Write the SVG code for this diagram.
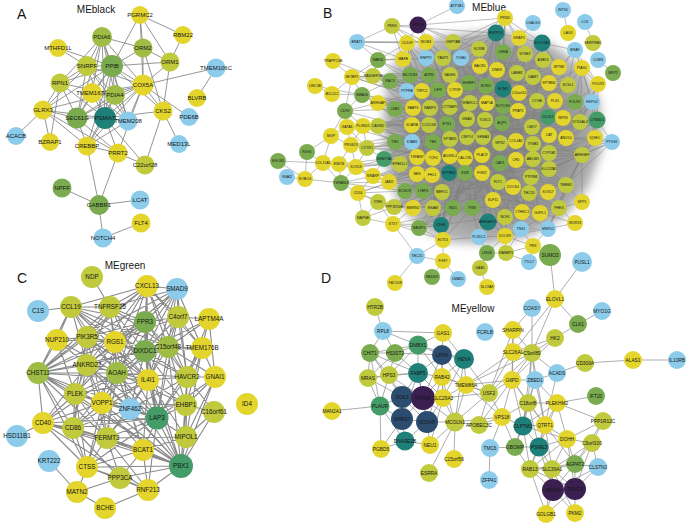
<svg xmlns="http://www.w3.org/2000/svg" width="689" height="523" viewBox="0 0 689 523">
<style>
.e{fill:none;stroke:#8a8a8a;stroke-linecap:round}
.ea{stroke-width:0.9}.eb{stroke-width:0.5;stroke:#7e7e7e}.ec{stroke-width:1.1}.ed{stroke-width:0.7}
text{font-family:"Liberation Sans",Arial,sans-serif;text-anchor:middle;fill:#151515}
.h{font-size:14px;text-anchor:start}.m{font-size:10px}
.fa{font-size:6px}.fb{font-size:3.5px}.fc{font-size:6.3px}.fd{font-size:4.8px}
.y{fill:#e3d52c}.yg{fill:#c0ca3c}.lg{fill:#9fbd45}.g{fill:#7aac4f}.tg{fill:#449c68}.t{fill:#1f8079}.n{fill:#2d4d70}.p{fill:#3b1f50}.b{fill:#8ccbea}
</style>
<defs>
<radialGradient id="meshfill" cx="0.5" cy="0.5" r="0.55">
<stop offset="0" stop-color="#8a8a8a"/>
<stop offset="0.65" stop-color="#959595"/>
<stop offset="1" stop-color="#c0c0c0"/>
</radialGradient>
<filter id="soft" x="-10%" y="-10%" width="120%" height="120%"><feGaussianBlur stdDeviation="5"/></filter>
</defs>
<rect width="689" height="523" fill="#ffffff"/>
<g id="titles">
<text class="h" x="17" y="19">A</text><text class="m" x="96" y="13">MEblack</text>
<text class="h" x="323" y="18">B</text><text class="m" x="489" y="11">MEblue</text>
<text class="h" x="17" y="283">C</text><text class="m" x="125" y="269">MEgreen</text>
<text class="h" x="321" y="283">D</text><text class="m" x="473" y="312">MEyellow</text>
</g>
<g id="connectors">
<path id="edges-a" class="e ea" d="M140 15L183 35M140 15L170 62M140 15L143 48M140 15L112 66M140 15L143 85M183 35L170 62M143 48L112 66M143 48L170 62M143 48L143 85M143 48L163 111M143 48L102 37M170 62L143 85M170 62L112 66M170 62L163 111M216 68L143 85M216 68L197 98M102 37L112 66M102 37L87 66M102 37L115 95M102 37L77 118M102 37L92 93M102 37L105 118M102 37L143 85M102 37L128 121M102 37L60 83M58 48L112 66M58 48L87 66M87 66L112 66M87 66L60 83M87 66L43 110M87 66L115 95M87 66L77 118M87 66L105 118M87 66L128 121M87 66L143 85M112 66L143 85M112 66L115 95M112 66L77 118M112 66L105 118M112 66L60 83M112 66L92 93M112 66L128 121M112 66L87 146M112 66L43 110M112 66L163 111M60 83L43 110M60 83L77 118M60 83L115 95M60 83L50 142M60 83L105 118M143 85L115 95M143 85L105 118M143 85L77 118M143 85L163 111M143 85L128 121M143 85L92 93M143 85L118 153M143 85L87 146M143 85L189 117M143 85L43 110M92 93L105 118M92 93L77 118M92 93L115 95M92 93L128 121M115 95L105 118M115 95L77 118M115 95L128 121M115 95L87 146M43 110L16 136M43 110L77 118M43 110L105 118M43 110L50 142M43 110L118 153M43 110L87 146M163 111L179 144M163 111L105 118M163 111L145 165M77 118L105 118M77 118L87 146M77 118L118 153M105 118L128 121M105 118L87 146M105 118L118 153M105 118L145 165M128 121L87 146M87 146L118 153M87 146L99 205M118 153L99 205M118 153L145 165M62 188L99 205M140 200L99 205M99 205L103 238M103 238L141 223"/>
<polygon id="mesh-b" points="398,52 440,36 500,30 545,40 580,64 600,100 602,150 588,188 563,218 530,236 490,244 452,243 422,230 398,204 386,165 383,120 386,82" fill="url(#meshfill)" filter="url(#soft)"/>
<path id="edges-b" class="e eb" d="M373 76L543 60M373 76L568 85M373 76L555 101M373 76L548 117M373 76L566 138M373 76L582 155M373 76L549 169M390 81L559 67M390 81L549 83M390 81L537 101M390 81L575 102M390 81L580 122M390 81L549 153M390 81L566 185M378 103L543 60M378 103L568 85M378 103L555 101M378 103L548 117M378 103L549 135M378 103L582 155M378 103L559 208M395 109L559 67M395 109L549 83M395 109L575 102M395 109L580 122M395 109L566 138M395 109L549 169M395 109L566 185M378 126L543 60M378 126L549 83M378 126L537 101M378 126L548 117M378 126L549 135M378 126L549 153M378 126L559 208M395 142L559 67M395 142L568 85M395 142L555 101M395 142L580 122M395 142L566 138M395 142L582 155M395 142L566 185M384 159L543 60M384 159L549 83M384 159L575 102M384 159L548 117M384 159L549 153M384 159L549 169M384 159L559 208M400 164L559 67M400 164L568 85M400 164L537 101M400 164L580 122M400 164L549 135M400 164L582 155M400 164L566 185M389 182L543 60M389 182L549 83M389 182L555 101M389 182L548 117M389 182L566 138M389 182L549 169M389 182L559 208M405 191L559 67M405 191L568 85M405 191L575 102M405 191L580 122M405 191L549 153M405 191L582 155M405 191L566 185M394 207L543 60M394 207L537 101M394 207L548 117M394 207L549 135M394 207L566 138M394 207L549 169M394 207L559 208M413 208L559 67M413 208L549 83M413 208L555 101M413 208L580 122M413 208L549 153M413 208L566 185M419 228L568 85M419 228L575 102M419 228L548 117M419 228L566 138M419 228L582 155M419 228L559 208M407 43L433 208M407 43L472 208M407 43L522 212M407 43L488 222M407 43L521 229M407 43L443 240M426 42L453 208M426 42L441 225M426 42L493 200M426 42L540 213M426 42L505 217M426 42L505 236M453 42L433 208M453 42L472 208M453 42L522 212M453 42L488 222M453 42L521 229M453 42L443 240M403 59L453 208M403 59L441 225M403 59L493 200M403 59L505 217M403 59L540 213M443 58L433 208M443 58L472 208M443 58L522 212M443 58L488 222M443 58L505 236M496 33L433 208M496 33L453 208M496 33L441 225M496 33L493 200M496 33L540 213M496 33L521 229M519 38L453 208M519 38L472 208M519 38L488 222M519 38L505 236M519 38L443 240M479 49L433 208M479 49L441 225M479 49L522 212M479 49L505 217M479 49L521 229M503 52L453 208M503 52L472 208M503 52L493 200M503 52L540 213M503 52L443 240M525 54L433 208M525 54L441 225M525 54L488 222M525 54L505 236M542 43L453 208M542 43L472 208M542 43L522 212M542 43L521 229M505 18L433 208M505 18L493 200M505 18L505 217M505 18L441 225M373 76L522 212M390 81L540 213M378 103L505 236M395 109L521 229M378 126L540 213M407 43L566 185M426 42L582 155M453 42L559 208M403 59L549 169M443 58L566 138M542 43L394 207M525 54L384 159M519 38L419 228M503 52L405 191M496 33L389 182M568 85L413 208M580 122L433 208M357 42L392 26M357 42L407 43M357 42L426 42M357 42L453 42M357 42L403 59M357 42L378 60M392 26L418 25M392 26L407 43M392 26L426 42M392 26L403 59M392 26L443 58M392 26L496 33M418 25L457 6M418 25L407 43M418 25L426 42M418 25L453 42M418 25L443 58M418 25L479 49M418 25L505 18M378 60L352 77M378 60L403 59M378 60L443 58M378 60L450 107M378 60L373 76M378 60L410 75M378 60L407 43M333 61L352 77M333 61L373 76M352 77L373 76M352 77L362 95M352 77L345 111M352 77L332 94M352 77L410 75M352 77L450 107M352 77L485 120M352 77L390 81M315 86L332 94M315 86L362 95M332 94L362 95M362 95L390 81M362 95L395 109M362 95L450 107M362 95L485 120M362 95L345 111M362 95L378 103M362 95L430 140M345 111L347 127M345 111L363 126M345 111L378 103M345 111L395 109M345 111L450 139M345 111L331 136M347 127L363 126M347 127L331 136M347 127L351 145M347 127L367 148M347 127L412 125M347 127L485 120M347 127L465 158M363 126L378 126M363 126L351 145M363 126L367 148M363 126L395 142M363 126L450 139M363 126L503 106M363 126L500 163M331 136L351 145M331 136L307 152M331 136L323 163M351 145L367 148M351 145L339 164M351 145L356 167M351 145L395 142M351 145L465 158M351 145L485 120M367 148L384 159M367 148L356 167M367 148L395 142M367 148L450 139M367 148L500 163M367 148L532 127M307 152L323 163M307 152L305 179M278 161L323 163M278 161L305 179M323 163L339 164M323 163L305 179M323 163L341 183M323 163L356 167M339 164L356 167M339 164L341 183M339 164L384 159M339 164L373 176M339 164L400 164M356 167L373 176M356 167L341 183M356 167L384 159M356 167L389 182M356 167L465 158M356 167L433 158M287 177L305 179M305 179L341 183M341 183L373 176M341 183L358 193M341 183L389 182M341 183L405 191M373 176L389 182M373 176L358 193M373 176L384 159M373 176L417 174M373 176L465 158M373 176L500 163M373 176L433 158M358 193L378 202M358 193L389 182M358 193L394 207M358 193L405 191M358 193L363 218M358 193L417 174M378 202L394 207M378 202L363 218M378 202L393 224M378 202L413 208M378 202L433 208M363 218L393 224M363 218L394 207M393 224L419 228M393 224L443 240M393 224L417 256M393 224L413 208M393 224L441 225M393 224L472 208M419 228L441 225M419 228L443 240M419 228L433 208M419 228L453 208M443 240L417 256M443 240L443 261M443 240L441 225M443 240L472 208M443 240L479 237M417 256L443 261M395 283L417 256M432 277L443 261M458 279L443 261M487 287L480 268M480 268L487 253M505 18L496 33M505 18L519 38M505 18L479 49M505 18L503 52M505 18L525 54M505 18L480 66M505 18L453 42M505 18L542 43M505 18L443 58M533 23L519 38M563 10L568 33M585 22L593 43M496 33L479 49M496 33L503 52M496 33L519 38M496 33L480 66M496 33L453 42M496 33L450 75M496 33L443 58M542 43L575 50M542 43L559 67M542 43L525 54M542 43L543 60M542 43L519 38M542 43L568 85M575 50L582 68M575 50L559 67M575 50L568 85M575 50L598 84M575 50L549 83M575 50L592 102M582 68L598 84M582 68L568 85M582 68L575 102M582 68L592 102M582 68L549 83M582 68L580 122M598 60L613 73M598 84L592 102M598 84L575 102M598 84L580 122M598 84L597 120M598 84L566 138M592 102L597 120M592 102L575 102M592 102L580 122M592 102L549 135M592 102L566 138M592 102L595 138M592 102L549 153M597 120L595 138M597 120L580 122M597 120L566 138M597 120L582 155M597 120L612 142M597 120L549 153M595 138L612 142M595 138L582 155M595 138L566 138M595 138L549 153M595 138L566 185M612 142L582 155M612 142L549 153M612 142L549 169M612 142L566 185M612 142L566 138M582 155L566 185M582 155L549 169M582 155L582 202M582 155L559 208M582 155L548 229M566 185L582 202M566 185L559 208M566 185L548 229M566 185L549 169M582 202L559 208M559 208L575 223M559 208L548 229M559 208L540 213M559 208L521 229M575 223L548 229M575 223L540 213M548 229L521 229M548 229L533 246M548 229L540 213M548 229L505 236M548 229L522 212M521 229L505 236M521 229L533 246M521 229L505 217M521 229L506 253M533 246L505 236M533 246L506 253M533 246L529 262M505 236L488 222M505 236L479 237M505 236L506 253M505 236L487 253M506 253L487 253M506 253L529 262M479 237L487 253M479 237L488 222M479 237L472 208M487 253L480 268"/>
<path id="edges-c" class="e ec" d="M92 277L110 307M38 311L71 307M71 307L147 286M71 307L110 307M71 307L87 337M71 307L57 340M71 307L115 342M71 307L145 322M71 307L145 351M71 307L87 365M71 307L38 373M71 307L117 373M71 307L168 347M71 307L148 380M110 307L147 286M110 307L145 322M110 307L115 342M110 307L87 337M110 307L145 351M110 307L117 373M110 307L87 365M110 307L168 347M110 307L177 289M110 307L38 373M110 307L148 380M110 307L75 394M147 286L177 289M147 286L145 322M147 286L178 317M147 286L145 351M147 286L115 342M147 286L87 337M147 286L168 347M147 286L117 373M147 286L187 377M147 286L148 380M147 286L87 365M147 286L38 373M147 286L202 348M177 289L178 317M177 289L145 322M177 289L168 347M177 289L145 351M177 289L187 377M177 289L148 380M177 289L117 373M177 289L115 342M177 289L157 418M177 289L202 348M177 289L87 337M178 317L209 319M178 317L168 347M178 317L202 348M178 317L145 351M178 317L145 322M178 317L187 377M178 317L115 342M178 317L157 418M178 317L148 380M209 319L202 348M209 319L215 377M209 319L168 347M209 319L187 377M209 319L145 351M145 322L115 342M145 322L145 351M145 322L168 347M145 322L117 373M145 322L148 380M145 322L87 337M145 322L87 365M145 322L187 377M145 322L157 418M145 322L38 373M145 322L102 403M145 322L75 394M57 340L87 337M57 340L87 365M57 340L38 373M57 340L117 373M57 340L115 342M57 340L75 394M87 337L115 342M87 337L87 365M87 337L117 373M87 337L145 351M87 337L38 373M87 337L148 380M87 337L75 394M87 337L102 403M87 337L73 428M87 337L157 418M115 342L145 351M115 342L117 373M115 342L87 365M115 342L148 380M115 342L168 347M115 342L38 373M115 342L187 377M115 342L157 418M115 342L102 403M115 342L130 409M115 342L75 394M115 342L107 438M145 351L168 347M145 351L117 373M145 351L148 380M145 351L187 377M145 351L157 418M145 351L87 365M145 351L38 373M145 351L102 403M145 351L130 409M145 351L181 466M145 351L186 405M145 351L202 348M168 347L202 348M168 347L187 377M168 347L148 380M168 347L117 373M168 347L157 418M168 347L186 405M168 347L181 466M168 347L215 377M168 347L130 409M202 348L187 377M202 348L215 377M202 348L157 418M202 348L186 405M202 348L186 437M87 365L38 373M87 365L117 373M87 365L148 380M87 365L75 394M87 365L102 403M87 365L73 428M87 365L107 438M87 365L157 418M87 365L181 466M87 365L43 423M87 365L130 409M38 373L117 373M38 373L75 394M38 373L43 423M38 373L73 428M38 373L102 403M38 373L148 380M38 373L107 438M38 373L157 418M38 373L181 466M38 373L87 467M117 373L148 380M117 373L187 377M117 373L157 418M117 373L75 394M117 373L102 403M117 373L130 409M117 373L107 438M117 373L73 428M117 373L181 466M117 373L143 450M117 373L186 405M117 373L43 423M117 373L87 467M148 380L187 377M148 380L157 418M148 380L102 403M148 380L130 409M148 380L186 405M148 380L181 466M148 380L186 437M148 380L107 438M148 380L143 450M148 380L73 428M148 380L75 394M187 377L215 377M187 377L157 418M187 377L186 405M187 377L181 466M187 377L186 437M187 377L130 409M187 377L214 412M215 377L186 405M215 377L186 437M215 377L181 466M215 377L157 418M75 394L102 403M75 394L43 423M75 394L73 428M75 394L107 438M75 394L157 418M75 394L181 466M75 394L130 409M75 394L87 467M102 403L130 409M102 403L157 418M102 403L43 423M102 403L73 428M102 403L107 438M102 403L143 450M102 403L181 466M102 403L87 467M102 403L186 405M130 409L157 418M130 409L107 438M130 409L143 450M130 409L181 466M130 409L186 405M130 409L73 428M157 418L186 405M157 418L186 437M157 418L181 466M157 418L143 450M157 418L107 438M157 418L73 428M157 418L43 423M157 418L87 467M157 418L148 490M186 405L214 412M186 405L186 437M186 405L181 466M214 412L181 466M214 412L186 437M186 437L181 466M186 437L143 450M186 437L107 438M43 423L17 436M43 423L73 428M43 423L107 438M43 423L87 467M43 423L143 450M43 423L181 466M43 423L148 490M73 428L107 438M73 428L87 467M73 428L143 450M73 428L181 466M73 428L120 478M107 438L143 450M107 438L87 467M107 438L181 466M107 438L120 478M107 438L148 490M143 450L181 466M143 450L87 467M143 450L148 490M143 450L120 478M87 467L181 466M87 467L120 478M87 467L148 490M87 467L77 492M181 466L120 478M181 466L148 490M120 478L77 492M120 478L148 490M77 492L49 461M77 492L105 508M105 508L148 490"/>
<path id="edges-d" class="e ed" d="M375 307L383 331M383 331L443 333M383 331L370 353M383 331L395 353M383 331L418 345M443 333L442 355M443 333L418 345M443 333L464 359M513 330L513 352M513 330L512 380M513 330L532 353M513 330L489 393M555 299L550 255M555 299L582 262M555 299L578 324M555 299L532 353M555 299L513 352M532 308L532 353M532 308L513 330M602 311L578 324M578 324L555 338M555 338L532 353M555 338L512 380M555 338L513 352M532 353L513 352M532 353L512 380M532 353L535 380M532 353L528 403M532 353L557 373M532 353L489 393M532 353L466 385M532 353L523 426M532 353L545 425M585 363L557 373M585 363L633 360M633 360L677 360M557 373L535 380M557 373L545 425M535 380L512 380M535 380L528 403M535 380L557 403M535 380L545 425M535 380L523 426M512 380L489 393M512 380L513 352M512 380L528 403M512 380L523 426M512 380L545 425M512 380L466 385M512 380L502 417M512 380L479 425M513 352L489 393M513 352L466 385M596 396L557 403M557 403L528 403M557 403L603 421M557 403L545 425M557 403L567 439M557 403L523 426M557 403L539 447M603 421L567 439M603 421L592 443M603 421L575 464M528 403L523 426M528 403L545 425M528 403L502 417M528 403L539 447M528 403L515 447M523 426L545 425M523 426L539 447M523 426L515 447M523 426L530 469M523 426L502 417M523 426L567 439M545 425L567 439M545 425L539 447M545 425L530 469M545 425L552 469M545 425L575 464M567 439L592 443M567 439L575 464M567 439L539 447M567 439L552 469M567 439L530 469M567 439L575 489M592 443L575 464M592 443L598 467M592 443L552 469M592 443L575 489M575 464L598 467M575 464L552 469M575 464L575 489M575 464L553 490M575 464L530 469M598 467L575 489M598 467L553 490M539 447L515 447M539 447L530 469M539 447L552 469M539 447L553 490M515 447L530 469M515 447L502 417M515 447L490 448M530 469L552 469M530 469L553 490M530 469L575 489M530 469L546 514M552 469L553 490M552 469L575 489M552 469L546 514M552 469L575 513M553 490L575 489M553 490L546 514M553 490L575 513M575 489L575 513M575 489L546 514M502 417L479 425M502 417L455 422M502 417L489 393M502 417L490 448M502 417L466 385M489 393L466 385M489 393L455 422M489 393L479 425M489 393L442 377M489 393L464 359M489 393L443 398M370 353L395 353M370 353L368 378M370 353L389 375M370 353L418 373M370 353L402 397M370 353L380 406M370 353L418 345M395 353L418 345M395 353L389 375M395 353L418 373M395 353L368 378M395 353L442 355M418 345L442 355M418 345L418 373M418 345L464 359M418 345L442 377M418 345L389 375M442 355L464 359M442 355L418 373M442 355L442 377M442 355L466 385M442 355L423 398M442 355L443 398M464 359L442 377M464 359L466 385M464 359L443 398M464 359L455 422M368 378L389 375M368 378L380 406M368 378L418 373M368 378L402 397M389 375L418 373M389 375L402 397M389 375L423 398M389 375L380 406M418 373L442 377M418 373L402 397M418 373L423 398M418 373L443 398M418 373L427 422M418 373L402 419M442 377L466 385M442 377L443 398M442 377L423 398M442 377L427 422M442 377L455 422M466 385L443 398M466 385L455 422M402 397L423 398M402 397L402 419M402 397L427 422M402 397L380 406M423 398L443 398M423 398L427 422M423 398L402 419M423 398L455 422M443 398L455 422M443 398L427 422M443 398L430 445M380 406L332 411M380 406L402 419M380 406L405 441M380 406L381 449M402 419L427 422M402 419L405 441M402 419L381 449M427 422L455 422M427 422L430 445M427 422L405 441M455 422L479 425M455 422L430 445M455 422L454 459M455 422L429 473M405 441L381 449M405 441L430 445M490 448L489 480"/>
</g>
<g id="nodes-a" class="fa">
<g id="a-pgrmc2"><circle class="y" cx="140" cy="15" r="9"/><text x="140" y="17">PGRMC2</text></g>
<g id="a-rbm22"><circle class="y" cx="183" cy="35" r="9"/><text x="183" y="37">RBM22</text></g>
<g id="a-pdia6"><circle class="lg" cx="102" cy="37" r="10"/><text x="102" y="39">PDIA6</text></g>
<g id="a-orm2"><circle class="lg" cx="143" cy="48" r="9.5"/><text x="143" y="50">ORM2</text></g>
<g id="a-mthfd1l"><circle class="y" cx="58" cy="48" r="9"/><text x="58" y="50">MTHFD1L</text></g>
<g id="a-orm1"><circle class="yg" cx="170" cy="62" r="9.5"/><text x="170" y="64">ORM1</text></g>
<g id="a-snrpf"><circle class="yg" cx="87" cy="66" r="10"/><text x="87" y="68">SNRPF</text></g>
<g id="a-ppib"><circle class="g" cx="112" cy="66" r="11"/><text x="112" y="68">PPIB</text></g>
<g id="a-tmem106c"><circle class="b" cx="216" cy="68" r="9.5"/><text x="216" y="70">TMEM106C</text></g>
<g id="a-rpn1"><circle class="yg" cx="60" cy="83" r="9.5"/><text x="60" y="85">RPN1</text></g>
<g id="a-cox5a"><circle class="y" cx="143" cy="85" r="10.5"/><text x="143" y="87">COX5A</text></g>
<g id="a-tmem167a"><circle class="y" cx="92" cy="93" r="10"/><text x="92" y="95">TMEM167A</text></g>
<g id="a-pdia4"><circle class="lg" cx="115" cy="95" r="10"/><text x="115" y="97">PDIA4</text></g>
<g id="a-blvrb"><circle class="y" cx="197" cy="98" r="9"/><text x="197" y="100">BLVRB</text></g>
<g id="a-glrx3"><circle class="y" cx="43" cy="110" r="9.5"/><text x="43" y="112">GLRX3</text></g>
<g id="a-cks2"><circle class="y" cx="163" cy="111" r="9.5"/><text x="163" y="113">CKS2</text></g>
<g id="a-pde6b"><circle class="b" cx="189" cy="117" r="9"/><text x="189" y="119">PDE6B</text></g>
<g id="a-sec61g"><circle class="g" cx="77" cy="118" r="10.5"/><text x="77" y="120">SEC61G</text></g>
<g id="a-psma7"><circle class="t" cx="105" cy="118" r="11"/><text x="105" y="120">PSMA7</text></g>
<g id="a-tmem208"><circle class="b" cx="128" cy="121" r="9.5"/><text x="128" y="123">TMEM208</text></g>
<g id="a-acacb"><circle class="b" cx="16" cy="136" r="9"/><text x="16" y="138">ACACB</text></g>
<g id="a-bzrap1"><circle class="y" cx="50" cy="142" r="9"/><text x="50" y="144">BZRAP1</text></g>
<g id="a-crebbp"><circle class="y" cx="87" cy="146" r="9.5"/><text x="87" y="148">CREBBP</text></g>
<g id="a-med13l"><circle class="b" cx="179" cy="144" r="9"/><text x="179" y="146">MED13L</text></g>
<g id="a-prrt2"><circle class="y" cx="118" cy="153" r="9.5"/><text x="118" y="155">PRRT2</text></g>
<g id="a-c22orf28"><circle class="yg" cx="145" cy="165" r="9.5"/><text x="145" y="167">C22orf28</text></g>
<g id="a-npff"><circle class="g" cx="62" cy="188" r="9.5"/><text x="62" y="190">NPFF</text></g>
<g id="a-gabbr1"><circle class="g" cx="99" cy="205" r="10"/><text x="99" y="207">GABBR1</text></g>
<g id="a-lcat"><circle class="b" cx="140" cy="200" r="9.5"/><text x="140" y="202">LCAT</text></g>
<g id="a-flt4"><circle class="y" cx="141" cy="223" r="9.5"/><text x="141" y="225">FLT4</text></g>
<g id="a-notch4"><circle class="b" cx="103" cy="238" r="9.5"/><text x="103" y="240">NOTCH4</text></g>
</g>
<g id="nodes-b" class="fb">
<g id="b01"><circle class="b" cx="457" cy="6" r="8"/><text x="457" y="7.2">ATP1B1</text></g>
<g id="b02"><circle class="yg" cx="392" cy="26" r="8"/><text x="392" y="27.2">PKN3</text></g>
<g id="b03"><circle class="p" cx="418" cy="25" r="8.5"/><text x="418" y="26.2">PTK2B</text></g>
<g id="b04"><circle class="b" cx="357" cy="42" r="8"/><text x="357" y="43.2">BRAT1</text></g>
<g id="b05"><circle class="y" cx="407" cy="43" r="8"/><text x="407" y="44.2">CD109</text></g>
<g id="b06"><circle class="y" cx="426" cy="42" r="8"/><text x="426" y="43.2">MCM4</text></g>
<g id="b07"><circle class="yg" cx="453" cy="42" r="8"/><text x="453" y="43.2">GNPTAB</text></g>
<g id="b08"><circle class="y" cx="333" cy="61" r="8"/><text x="333" y="62.2">TRAPPC6B</text></g>
<g id="b09"><circle class="g" cx="378" cy="60" r="8"/><text x="378" y="61.2">RAB31</text></g>
<g id="b10"><circle class="y" cx="403" cy="59" r="8"/><text x="403" y="60.2">MAFB</text></g>
<g id="b11"><circle class="b" cx="426" cy="58" r="8"/><text x="426" y="59.2">ENPP2</text></g>
<g id="b12"><circle class="yg" cx="443" cy="58" r="8"/><text x="443" y="59.2">TASP1</text></g>
<g id="b13"><circle class="b" cx="461" cy="58" r="8"/><text x="461" y="59.2">ITGB4</text></g>
<g id="b14"><circle class="y" cx="352" cy="77" r="8"/><text x="352" y="78.2">SETBP1</text></g>
<g id="b15"><circle class="yg" cx="373" cy="76" r="8"/><text x="373" y="77.2">RASGEF1B</text></g>
<g id="b16"><circle class="g" cx="410" cy="75" r="8"/><text x="410" y="76.2">MCOLN3</text></g>
<g id="b17"><circle class="g" cx="429" cy="75" r="8"/><text x="429" y="76.2">ATRN</text></g>
<g id="b18"><circle class="yg" cx="450" cy="75" r="8"/><text x="450" y="76.2">SASH1</text></g>
<g id="b19"><circle class="y" cx="315" cy="86" r="8"/><text x="315" y="87.2">UNC5B</text></g>
<g id="b20"><circle class="y" cx="332" cy="94" r="8"/><text x="332" y="95.2">BCL2L2</text></g>
<g id="b21"><circle class="g" cx="362" cy="95" r="8"/><text x="362" y="96.2">SMAD6</text></g>
<g id="b22"><circle class="g" cx="390" cy="81" r="8"/><text x="390" y="82.2">RAC3</text></g>
<g id="b23"><circle class="b" cx="407" cy="91" r="8"/><text x="407" y="92.2">PTPRB</text></g>
<g id="b24"><circle class="y" cx="422" cy="91" r="8"/><text x="422" y="92.2">TRPC1</text></g>
<g id="b25"><circle class="g" cx="438" cy="90" r="8"/><text x="438" y="91.2">LIFR</text></g>
<g id="b26"><circle class="y" cx="455" cy="90" r="8"/><text x="455" y="91.2">CYP4F</text></g>
<g id="b27"><circle class="y" cx="378" cy="103" r="8"/><text x="378" y="104.2">ARHGAP</text></g>
<g id="b28"><circle class="g" cx="345" cy="111" r="8"/><text x="345" y="112.2">CD93</text></g>
<g id="b29"><circle class="g" cx="395" cy="109" r="8"/><text x="395" y="110.2">LDB2</text></g>
<g id="b30"><circle class="y" cx="413" cy="108" r="8"/><text x="413" y="109.2">FABP4</text></g>
<g id="b31"><circle class="yg" cx="430" cy="108" r="8"/><text x="430" y="109.2">RAMP3</text></g>
<g id="b32"><circle class="yg" cx="450" cy="107" r="8"/><text x="450" y="108.2">CTTNBP2</text></g>
<g id="b33"><circle class="y" cx="347" cy="127" r="8"/><text x="347" y="128.2">GATA6</text></g>
<g id="b34"><circle class="y" cx="363" cy="126" r="8"/><text x="363" y="127.2">PLXND1</text></g>
<g id="b35"><circle class="yg" cx="378" cy="126" r="8"/><text x="378" y="127.2">CAVIN2</text></g>
<g id="b36"><circle class="y" cx="412" cy="125" r="8"/><text x="412" y="126.2">SCARB</text></g>
<g id="b37"><circle class="yg" cx="429" cy="125" r="8"/><text x="429" y="126.2">CCDC68</text></g>
<g id="b38"><circle class="g" cx="447" cy="124" r="8"/><text x="447" y="125.2">ETS1</text></g>
<g id="b39"><circle class="y" cx="331" cy="136" r="8"/><text x="331" y="137.2">MGP</text></g>
<g id="b40"><circle class="y" cx="351" cy="145" r="8"/><text x="351" y="146.2">PRSS23</text></g>
<g id="b41"><circle class="yg" cx="367" cy="148" r="8"/><text x="367" y="149.2">CYYR1</text></g>
<g id="b42"><circle class="g" cx="395" cy="142" r="8"/><text x="395" y="143.2">TIE1</text></g>
<g id="b43"><circle class="b" cx="412" cy="142" r="8"/><text x="412" y="143.2">STAB1</text></g>
<g id="b44"><circle class="g" cx="433" cy="142" r="8"/><text x="433" y="143.2">TEK</text></g>
<g id="b45"><circle class="yg" cx="450" cy="139" r="8"/><text x="450" y="140.2">SPTAN1</text></g>
<g id="b46"><circle class="g" cx="307" cy="152" r="8"/><text x="307" y="153.2">RGS5</text></g>
<g id="b47"><circle class="g" cx="278" cy="161" r="8"/><text x="278" y="162.2">EGLN3</text></g>
<g id="b48"><circle class="y" cx="323" cy="163" r="8"/><text x="323" y="164.2">COL15A1</text></g>
<g id="b49"><circle class="y" cx="339" cy="164" r="8"/><text x="339" y="165.2">EMCN</text></g>
<g id="b50"><circle class="y" cx="356" cy="167" r="8"/><text x="356" y="168.2">SOX18</text></g>
<g id="b51"><circle class="tg" cx="384" cy="159" r="8"/><text x="384" y="160.2">DNMT3A</text></g>
<g id="b52"><circle class="yg" cx="400" cy="164" r="8"/><text x="400" y="165.2">EPB41L2</text></g>
<g id="b53"><circle class="y" cx="417" cy="157" r="8"/><text x="417" y="158.2">TSPAN7</text></g>
<g id="b54"><circle class="y" cx="433" cy="158" r="8"/><text x="433" y="159.2">TCF4</text></g>
<g id="b55"><circle class="y" cx="450" cy="156" r="8"/><text x="450" y="157.2">ADGRL4</text></g>
<g id="b56"><circle class="b" cx="287" cy="177" r="8"/><text x="287" y="178.2">SNAI2</text></g>
<g id="b57"><circle class="y" cx="305" cy="179" r="8"/><text x="305" y="180.2">ROBO4</text></g>
<g id="b58"><circle class="g" cx="341" cy="183" r="8"/><text x="341" y="184.2">TSPAN18</text></g>
<g id="b59"><circle class="y" cx="373" cy="176" r="8"/><text x="373" y="177.2">NRARP</text></g>
<g id="b60"><circle class="y" cx="417" cy="174" r="8"/><text x="417" y="175.2">NES</text></g>
<g id="b61"><circle class="y" cx="432" cy="175" r="8"/><text x="432" y="176.2">FHL1</text></g>
<g id="b62"><circle class="t" cx="449" cy="173" r="8"/><text x="449" y="174.2">SPTBN1</text></g>
<g id="b63"><circle class="y" cx="389" cy="182" r="8"/><text x="389" y="183.2">JAM2</text></g>
<g id="b64"><circle class="y" cx="358" cy="193" r="8"/><text x="358" y="194.2">CD34</text></g>
<g id="b65"><circle class="g" cx="405" cy="191" r="8"/><text x="405" y="192.2">ECSCR</text></g>
<g id="b66"><circle class="g" cx="423" cy="191" r="8"/><text x="423" y="192.2">LTBP4</text></g>
<g id="b67"><circle class="yg" cx="442" cy="192" r="8"/><text x="442" y="193.2">MEF2C</text></g>
<g id="b68"><circle class="yg" cx="378" cy="202" r="8"/><text x="378" y="203.2">ITIH5</text></g>
<g id="b69"><circle class="yg" cx="394" cy="207" r="8"/><text x="394" y="208.2">PPP1R16B</text></g>
<g id="b70"><circle class="y" cx="413" cy="208" r="8"/><text x="413" y="209.2">MMRN2</text></g>
<g id="b71"><circle class="yg" cx="433" cy="208" r="8"/><text x="433" y="209.2">ESAM</text></g>
<g id="b72"><circle class="g" cx="453" cy="208" r="8"/><text x="453" y="209.2">NID1</text></g>
<g id="b73"><circle class="yg" cx="363" cy="218" r="8"/><text x="363" y="219.2">NAPSB</text></g>
<g id="b74"><circle class="y" cx="393" cy="224" r="8"/><text x="393" y="225.2">STX7</text></g>
<g id="b75"><circle class="g" cx="419" cy="228" r="8"/><text x="419" y="229.2">RASIP1</text></g>
<g id="b76"><circle class="t" cx="441" cy="225" r="8"/><text x="441" y="226.2">CDH5</text></g>
<g id="b77"><circle class="y" cx="443" cy="240" r="8"/><text x="443" y="241.2">ELTD1</text></g>
<g id="b78"><circle class="b" cx="417" cy="256" r="8"/><text x="417" y="257.2">TBC2D</text></g>
<g id="b79"><circle class="y" cx="443" cy="261" r="8"/><text x="443" y="262.2">FGF7</text></g>
<g id="b80"><circle class="y" cx="395" cy="283" r="8"/><text x="395" y="284.2">TBC1D8</text></g>
<g id="b81"><circle class="g" cx="432" cy="277" r="8"/><text x="432" y="278.2">NEDD9</text></g>
<g id="b82"><circle class="b" cx="458" cy="279" r="8"/><text x="458" y="280.2">LMAN1</text></g>
<g id="b83"><circle class="y" cx="487" cy="287" r="8"/><text x="487" y="288.2">SLC9A9</text></g>
<g id="b84"><circle class="yg" cx="480" cy="268" r="8"/><text x="480" y="269.2">GAB1</text></g>
<g id="c01"><circle class="y" cx="505" cy="18" r="8"/><text x="505" y="19.2">PRND</text></g>
<g id="c02"><circle class="b" cx="533" cy="23" r="8"/><text x="533" y="24.2">LGALS3</text></g>
<g id="c03"><circle class="b" cx="563" cy="10" r="8"/><text x="563" y="11.2">INTS5</text></g>
<g id="c04"><circle class="b" cx="585" cy="22" r="8"/><text x="585" y="23.2">LCK</text></g>
<g id="c05"><circle class="y" cx="568" cy="33" r="8"/><text x="568" y="34.2">LAG3</text></g>
<g id="c06"><circle class="yg" cx="593" cy="43" r="8"/><text x="593" y="44.2">SERPINB1</text></g>
<g id="c07"><circle class="t" cx="496" cy="33" r="8.5"/><text x="496" y="34.2">ENTPD1</text></g>
<g id="c08"><circle class="y" cx="519" cy="38" r="8"/><text x="519" y="39.2">GRAP1</text></g>
<g id="c09"><circle class="t" cx="542" cy="43" r="8.5"/><text x="542" y="44.2">SLCO2B1</text></g>
<g id="c10"><circle class="yg" cx="479" cy="49" r="8"/><text x="479" y="50.2">SCRIB</text></g>
<g id="c11"><circle class="g" cx="503" cy="52" r="8"/><text x="503" y="53.2">CHKA</text></g>
<g id="c12"><circle class="yg" cx="525" cy="54" r="8"/><text x="525" y="55.2">SYNE2</text></g>
<g id="c13"><circle class="yg" cx="543" cy="60" r="8"/><text x="543" y="61.2">ASB13</text></g>
<g id="c14"><circle class="y" cx="559" cy="67" r="8"/><text x="559" y="68.2">SPTB2</text></g>
<g id="c15"><circle class="b" cx="575" cy="50" r="8"/><text x="575" y="51.2">BRAF</text></g>
<g id="c16"><circle class="y" cx="582" cy="68" r="8"/><text x="582" y="69.2">PIAS1</text></g>
<g id="c17"><circle class="b" cx="598" cy="60" r="8"/><text x="598" y="61.2">CLMN</text></g>
<g id="c18"><circle class="g" cx="613" cy="73" r="8"/><text x="613" y="74.2">NRP2</text></g>
<g id="c19"><circle class="y" cx="480" cy="66" r="8"/><text x="480" y="67.2">BACE1</text></g>
<g id="c20"><circle class="y" cx="497" cy="70" r="8"/><text x="497" y="71.2">DNER</text></g>
<g id="c21"><circle class="yg" cx="517" cy="73" r="8"/><text x="517" y="74.2">LAMB2</text></g>
<g id="c22"><circle class="yg" cx="533" cy="77" r="8"/><text x="533" y="78.2">GAMT</text></g>
<g id="c23"><circle class="y" cx="549" cy="83" r="8"/><text x="549" y="84.2">SPTBN2</text></g>
<g id="c24"><circle class="yg" cx="568" cy="85" r="8"/><text x="568" y="86.2">SCSL1</text></g>
<g id="c25"><circle class="y" cx="598" cy="84" r="8"/><text x="598" y="85.2">POLR3</text></g>
<g id="c26"><circle class="g" cx="469" cy="83" r="8"/><text x="469" y="84.2">SH3RF1</text></g>
<g id="c27"><circle class="g" cx="486" cy="86" r="8"/><text x="486" y="87.2">NONO</text></g>
<g id="c28"><circle class="t" cx="503" cy="89" r="8.5"/><text x="503" y="90.2">ECM1</text></g>
<g id="c29"><circle class="y" cx="519" cy="93" r="8"/><text x="519" y="94.2">C10orf10</text></g>
<g id="c30"><circle class="yg" cx="537" cy="101" r="8"/><text x="537" y="102.2">CYGB</text></g>
<g id="c31"><circle class="y" cx="555" cy="101" r="8"/><text x="555" y="102.2">PLS1</text></g>
<g id="c32"><circle class="g" cx="575" cy="102" r="8"/><text x="575" y="103.2">FOLR1</text></g>
<g id="c33"><circle class="b" cx="592" cy="102" r="8"/><text x="592" y="103.2">HSPG2</text></g>
<g id="c34"><circle class="yg" cx="470" cy="103" r="8"/><text x="470" y="104.2">SPARCL1</text></g>
<g id="c35"><circle class="y" cx="487" cy="103" r="8"/><text x="487" y="104.2">MAP1A</text></g>
<g id="c36"><circle class="g" cx="503" cy="106" r="8"/><text x="503" y="107.2">NOTCH1</text></g>
<g id="c37"><circle class="y" cx="518" cy="111" r="8"/><text x="518" y="112.2">PPAP2</text></g>
<g id="c38"><circle class="tg" cx="548" cy="117" r="8"/><text x="548" y="118.2">DCLK1</text></g>
<g id="c39"><circle class="y" cx="563" cy="118" r="8"/><text x="563" y="119.2">NPR3</text></g>
<g id="c40"><circle class="yg" cx="580" cy="122" r="8"/><text x="580" y="123.2">ST3GAL4</text></g>
<g id="c41"><circle class="tg" cx="597" cy="120" r="8.5"/><text x="597" y="121.2">CTNND1</text></g>
<g id="c42"><circle class="yg" cx="467" cy="119" r="8"/><text x="467" y="120.2">GNAS</text></g>
<g id="c43"><circle class="yg" cx="485" cy="120" r="8"/><text x="485" y="121.2">TUSC5</text></g>
<g id="c44"><circle class="g" cx="502" cy="123" r="8"/><text x="502" y="124.2">AQP1</text></g>
<g id="c45"><circle class="yg" cx="532" cy="127" r="8"/><text x="532" y="128.2">LMO7</text></g>
<g id="c46"><circle class="yg" cx="467" cy="137" r="8"/><text x="467" y="138.2">CNPY4</text></g>
<g id="c47"><circle class="yg" cx="483" cy="137" r="8"/><text x="483" y="138.2">SEMA3</text></g>
<g id="c48"><circle class="yg" cx="500" cy="143" r="8"/><text x="500" y="144.2">NPR2</text></g>
<g id="c49"><circle class="y" cx="516" cy="141" r="8"/><text x="516" y="142.2">COL4A1</text></g>
<g id="c50"><circle class="yg" cx="533" cy="144" r="8"/><text x="533" y="145.2">ITGB3</text></g>
<g id="c51"><circle class="y" cx="549" cy="135" r="8"/><text x="549" y="136.2">CAT</text></g>
<g id="c52"><circle class="y" cx="566" cy="138" r="8"/><text x="566" y="139.2">ANO10</text></g>
<g id="c53"><circle class="y" cx="595" cy="138" r="8"/><text x="595" y="139.2">IQSEC</text></g>
<g id="c54"><circle class="b" cx="612" cy="142" r="8"/><text x="612" y="143.2">PTGS1</text></g>
<g id="c55"><circle class="y" cx="465" cy="158" r="8"/><text x="465" y="159.2">CALCRL</text></g>
<g id="c56"><circle class="y" cx="482" cy="155" r="8"/><text x="482" y="156.2">PLAC9</text></g>
<g id="c57"><circle class="g" cx="500" cy="163" r="8"/><text x="500" y="164.2">CAV1</text></g>
<g id="c58"><circle class="y" cx="516" cy="160" r="8"/><text x="516" y="161.2">CFD</text></g>
<g id="c59"><circle class="yg" cx="533" cy="159" r="8"/><text x="533" y="160.2">ABLIM1</text></g>
<g id="c60"><circle class="yg" cx="549" cy="153" r="8"/><text x="549" y="154.2">CYP1B1</text></g>
<g id="c61"><circle class="yg" cx="582" cy="155" r="8"/><text x="582" y="156.2">ARHGEF</text></g>
<g id="c62"><circle class="g" cx="465" cy="173" r="8"/><text x="465" y="174.2">KDR</text></g>
<g id="c63"><circle class="y" cx="482" cy="173" r="8"/><text x="482" y="174.2">FGR2</text></g>
<g id="c64"><circle class="yg" cx="498" cy="182" r="8"/><text x="498" y="183.2">FLT1</text></g>
<g id="c65"><circle class="y" cx="513" cy="187" r="8"/><text x="513" y="188.2">DOCK4</text></g>
<g id="c66"><circle class="yg" cx="531" cy="177" r="8"/><text x="531" y="178.2">PTPRM</text></g>
<g id="c67"><circle class="yg" cx="549" cy="169" r="8"/><text x="549" y="170.2">SLCO2A1</text></g>
<g id="c68"><circle class="yg" cx="529" cy="193" r="8"/><text x="529" y="194.2">TBC1D</text></g>
<g id="c69"><circle class="y" cx="548" cy="192" r="8"/><text x="548" y="193.2">SOX17</text></g>
<g id="c70"><circle class="yg" cx="566" cy="185" r="8"/><text x="566" y="186.2">TMEM1</text></g>
<g id="c71"><circle class="y" cx="582" cy="202" r="8"/><text x="582" y="203.2">SPP1</text></g>
<g id="c72"><circle class="yg" cx="559" cy="208" r="8"/><text x="559" y="209.2">PHEX</text></g>
<g id="c73"><circle class="g" cx="472" cy="208" r="8"/><text x="472" y="209.2">PXN</text></g>
<g id="c74"><circle class="y" cx="493" cy="200" r="8"/><text x="493" y="201.2">KLF11</text></g>
<g id="c75"><circle class="y" cx="522" cy="212" r="8"/><text x="522" y="213.2">CTHRC1</text></g>
<g id="c76"><circle class="y" cx="540" cy="213" r="8"/><text x="540" y="214.2">GGPL1</text></g>
<g id="c77"><circle class="t" cx="488" cy="222" r="8.5"/><text x="488" y="223.2">ARHGEF15</text></g>
<g id="c78"><circle class="yg" cx="505" cy="217" r="8"/><text x="505" y="218.2">NCF4</text></g>
<g id="c79"><circle class="y" cx="575" cy="223" r="8"/><text x="575" y="224.2">WDR33</text></g>
<g id="c80"><circle class="b" cx="521" cy="229" r="8"/><text x="521" y="230.2">TNS1</text></g>
<g id="c81"><circle class="b" cx="548" cy="229" r="8"/><text x="548" y="230.2">MSPD2</text></g>
<g id="c82"><circle class="b" cx="479" cy="237" r="8"/><text x="479" y="238.2">PLXDC1</text></g>
<g id="c83"><circle class="y" cx="505" cy="236" r="8"/><text x="505" y="237.2">DOCK9</text></g>
<g id="c84"><circle class="y" cx="533" cy="246" r="8"/><text x="533" y="247.2">PRX</text></g>
<g id="c85"><circle class="g" cx="487" cy="253" r="8"/><text x="487" y="254.2">LRIG3</text></g>
<g id="c86"><circle class="yg" cx="506" cy="253" r="8"/><text x="506" y="254.2">RANBP3</text></g>
<g id="c87"><circle class="b" cx="529" cy="262" r="8"/><text x="529" y="263.2">TTLL7</text></g>
</g>
<g id="nodes-c" class="fc">
<g id="c-ndp"><circle class="yg" cx="92" cy="277" r="11"/><text x="92" y="279.2">NDP</text></g>
<g id="c-cxcl13"><circle class="y" cx="147" cy="286" r="11"/><text x="147" y="288.2">CXCL13</text></g>
<g id="c-smad9"><circle class="b" cx="177" cy="289" r="11"/><text x="177" y="291.2">SMAD9</text></g>
<g id="c-c1s"><circle class="b" cx="38" cy="311" r="11"/><text x="38" y="313.2">C1S</text></g>
<g id="c-ccl19"><circle class="yg" cx="71" cy="307" r="11"/><text x="71" y="309.2">CCL19</text></g>
<g id="c-tnfrsf25"><circle class="yg" cx="110" cy="307" r="11"/><text x="110" y="309.2">TNFRSF25</text></g>
<g id="c-c4orf7"><circle class="yg" cx="178" cy="317" r="11"/><text x="178" y="319.2">C4orf7</text></g>
<g id="c-laptm4a"><circle class="y" cx="209" cy="319" r="11"/><text x="209" y="321.2">LAPTM4A</text></g>
<g id="c-fpr3"><circle class="g" cx="145" cy="322" r="11"/><text x="145" y="324.2">FPR3</text></g>
<g id="c-nup210"><circle class="y" cx="57" cy="340" r="11"/><text x="57" y="342.2">NUP210</text></g>
<g id="c-pik3r5"><circle class="yg" cx="87" cy="337" r="11"/><text x="87" y="339.2">PIK3R5</text></g>
<g id="c-rgs1"><circle class="y" cx="115" cy="342" r="11"/><text x="115" y="344.2">RGS1</text></g>
<g id="c-dixdc1"><circle class="g" cx="145" cy="351" r="11"/><text x="145" y="353.2">DIXDC1</text></g>
<g id="c-c15orf48"><circle class="lg" cx="168" cy="347" r="11"/><text x="168" y="349.2">C15orf48</text></g>
<g id="c-tmem176b"><circle class="y" cx="202" cy="348" r="11"/><text x="202" y="350.2">TMEM176B</text></g>
<g id="c-ankrd22"><circle class="yg" cx="87" cy="365" r="11"/><text x="87" y="367.2">ANKRD22</text></g>
<g id="c-chst11"><circle class="lg" cx="38" cy="373" r="11"/><text x="38" y="375.2">CHST11</text></g>
<g id="c-aoah"><circle class="lg" cx="117" cy="373" r="11"/><text x="117" y="375.2">AOAH</text></g>
<g id="c-il4i1"><circle class="y" cx="148" cy="380" r="11"/><text x="148" y="382.2">IL4I1</text></g>
<g id="c-havcr2"><circle class="yg" cx="187" cy="377" r="11"/><text x="187" y="379.2">HAVCR2</text></g>
<g id="c-gnai1"><circle class="y" cx="215" cy="377" r="11"/><text x="215" y="379.2">GNAI1</text></g>
<g id="c-plek"><circle class="yg" cx="75" cy="394" r="11"/><text x="75" y="396.2">PLEK</text></g>
<g id="c-vopp1"><circle class="y" cx="102" cy="403" r="11"/><text x="102" y="405.2">VOPP1</text></g>
<g id="c-znf462"><circle class="b" cx="130" cy="409" r="11"/><text x="130" y="411.2">ZNF462</text></g>
<g id="c-lap3"><circle class="tg" cx="157" cy="418" r="11.5"/><text x="157" y="420.2">LAP3</text></g>
<g id="c-ehbp1"><circle class="yg" cx="186" cy="405" r="11"/><text x="186" y="407.2">EHBP1</text></g>
<g id="c-c16orf61"><circle class="yg" cx="214" cy="412" r="11"/><text x="214" y="414.2">C16orf61</text></g>
<g id="c-id4"><circle class="y" cx="247" cy="404" r="11"/><text x="247" y="406.2">ID4</text></g>
<g id="c-cd40"><circle class="y" cx="43" cy="423" r="11"/><text x="43" y="425.2">CD40</text></g>
<g id="c-hsd11b1"><circle class="b" cx="17" cy="436" r="11"/><text x="17" y="438.2">HSD11B1</text></g>
<g id="c-cd86"><circle class="yg" cx="73" cy="428" r="11"/><text x="73" y="430.2">CD86</text></g>
<g id="c-fermt3"><circle class="yg" cx="107" cy="438" r="11"/><text x="107" y="440.2">FERMT3</text></g>
<g id="c-mipol1"><circle class="yg" cx="186" cy="437" r="11"/><text x="186" y="439.2">MIPOL1</text></g>
<g id="c-bcat1"><circle class="y" cx="143" cy="450" r="11"/><text x="143" y="452.2">BCAT1</text></g>
<g id="c-krt222"><circle class="b" cx="49" cy="461" r="11"/><text x="49" y="463.2">KRT222</text></g>
<g id="c-ctss"><circle class="y" cx="87" cy="467" r="11"/><text x="87" y="469.2">CTSS</text></g>
<g id="c-pbx1"><circle class="tg" cx="181" cy="466" r="12"/><text x="181" y="468.2">PBX1</text></g>
<g id="c-ppp3ca"><circle class="yg" cx="120" cy="478" r="11"/><text x="120" y="480.2">PPP3CA</text></g>
<g id="c-matn2"><circle class="y" cx="77" cy="492" r="11"/><text x="77" y="494.2">MATN2</text></g>
<g id="c-rnf213"><circle class="y" cx="148" cy="490" r="11"/><text x="148" y="492.2">RNF213</text></g>
<g id="c-bche"><circle class="y" cx="105" cy="508" r="11"/><text x="105" y="510.2">BCHE</text></g>
</g>
<g id="nodes-d" class="fd">
<g id="d-sumo3"><circle class="g" cx="550" cy="255" r="11"/><text x="550" y="256.7">SUMO3</text></g>
<g id="d-pusl1"><circle class="b" cx="582" cy="262" r="10"/><text x="582" y="263.7">PUSL1</text></g>
<g id="d-htr2b"><circle class="yg" cx="375" cy="307" r="9"/><text x="375" y="308.7">HTR2B</text></g>
<g id="d-rpl8"><circle class="b" cx="383" cy="331" r="9"/><text x="383" y="332.7">RPL8</text></g>
<g id="d-gas1"><circle class="y" cx="443" cy="333" r="9"/><text x="443" y="334.7">GAS1</text></g>
<g id="d-fcrlb"><circle class="b" cx="485" cy="332" r="9"/><text x="485" y="333.7">FCRLB</text></g>
<g id="d-sharpin"><circle class="y" cx="513" cy="330" r="9"/><text x="513" y="331.7">SHARPIN</text></g>
<g id="d-elovl1"><circle class="y" cx="555" cy="299" r="9"/><text x="555" y="300.7">ELOVL1</text></g>
<g id="d-coasy"><circle class="b" cx="532" cy="308" r="9"/><text x="532" y="309.7">COASY</text></g>
<g id="d-myo1g"><circle class="b" cx="602" cy="311" r="9"/><text x="602" y="312.7">MYO1G</text></g>
<g id="d-clk1"><circle class="g" cx="578" cy="324" r="9"/><text x="578" y="325.7">CLK1</text></g>
<g id="d-hk2"><circle class="yg" cx="555" cy="338" r="9"/><text x="555" y="339.7">HK2</text></g>
<g id="d-c9orf89"><circle class="yg" cx="532" cy="353" r="9"/><text x="532" y="354.7">C9orf89</text></g>
<g id="d-slc26a1"><circle class="y" cx="513" cy="352" r="9"/><text x="513" y="353.7">SLC26A1</text></g>
<g id="d-chit1"><circle class="g" cx="370" cy="353" r="9"/><text x="370" y="354.7">CHIT1</text></g>
<g id="d-hs3st2"><circle class="g" cx="395" cy="353" r="9"/><text x="395" y="354.7">HS3ST2</text></g>
<g id="d-dmbx1"><circle class="tg" cx="418" cy="345" r="9.5"/><text x="418" y="346.7">DMBX1</text></g>
<g id="d-lpxn"><circle class="n" cx="442" cy="355" r="10"/><text x="442" y="356.7">LPXN</text></g>
<g id="d-hexa"><circle class="t" cx="464" cy="359" r="10"/><text x="464" y="360.7">HEXA</text></g>
<g id="d-mras"><circle class="yg" cx="368" cy="378" r="9"/><text x="368" y="379.7">MRAS</text></g>
<g id="d-hps3"><circle class="yg" cx="389" cy="375" r="9"/><text x="389" y="376.7">HPS3</text></g>
<g id="d-fabp5"><circle class="t" cx="418" cy="373" r="10"/><text x="418" y="374.7">FABP5</text></g>
<g id="d-rab42"><circle class="y" cx="442" cy="377" r="9"/><text x="442" y="378.7">RAB42</text></g>
<g id="d-tmem86a"><circle class="y" cx="466" cy="385" r="9"/><text x="466" y="386.7">TMEM86A</text></g>
<g id="d-usf2"><circle class="yg" cx="489" cy="393" r="9"/><text x="489" y="394.7">USF2</text></g>
<g id="d-g6pd"><circle class="y" cx="512" cy="380" r="9"/><text x="512" y="381.7">G6PD</text></g>
<g id="d-zbed1"><circle class="b" cx="535" cy="380" r="9"/><text x="535" y="381.7">ZBED1</text></g>
<g id="d-acads"><circle class="b" cx="557" cy="373" r="9"/><text x="557" y="374.7">ACADS</text></g>
<g id="d-cd300a"><circle class="yg" cx="585" cy="363" r="9"/><text x="585" y="364.7">CD300A</text></g>
<g id="d-alas1"><circle class="y" cx="633" cy="360" r="9"/><text x="633" y="361.7">ALAS1</text></g>
<g id="d-il10rb"><circle class="b" cx="677" cy="360" r="9"/><text x="677" y="361.7">IL10RB</text></g>
<g id="d-ift20"><circle class="g" cx="596" cy="396" r="9"/><text x="596" y="397.7">IFT20</text></g>
<g id="d-c18orf8"><circle class="yg" cx="528" cy="403" r="9"/><text x="528" y="404.7">C18orf8</text></g>
<g id="d-plekhm2"><circle class="y" cx="557" cy="403" r="9"/><text x="557" y="404.7">PLEKHM2</text></g>
<g id="d-ppp1r12c"><circle class="yg" cx="603" cy="421" r="9"/><text x="603" y="422.7">PPP1R12C</text></g>
<g id="d-clptm1"><circle class="t" cx="523" cy="426" r="9.5"/><text x="523" y="427.7">CLPTM1</text></g>
<g id="d-qtrt1"><circle class="y" cx="545" cy="425" r="9"/><text x="545" y="426.7">QTRT1</text></g>
<g id="d-dohh"><circle class="y" cx="567" cy="439" r="9"/><text x="567" y="440.7">DOHH</text></g>
<g id="d-c9orf100"><circle class="yg" cx="592" cy="443" r="9"/><text x="592" y="444.7">C9orf100</text></g>
<g id="d-gbomp"><circle class="g" cx="515" cy="447" r="9"/><text x="515" y="448.7">GBOMP</text></g>
<g id="d-psme3"><circle class="t" cx="539" cy="447" r="9.5"/><text x="539" y="448.7">PSME3</text></g>
<g id="d-agpat2"><circle class="g" cx="575" cy="464" r="9"/><text x="575" y="465.7">AGPAT2</text></g>
<g id="d-clstn3"><circle class="b" cx="598" cy="467" r="9"/><text x="598" y="468.7">CLSTN3</text></g>
<g id="d-rab13"><circle class="yg" cx="530" cy="469" r="9"/><text x="530" y="470.7">RAB13</text></g>
<g id="d-slc39a1"><circle class="yg" cx="552" cy="469" r="9"/><text x="552" y="470.7">SLC39A1</text></g>
<g id="d-adap1"><circle class="p" cx="553" cy="490" r="11"/><text x="553" y="491.7">ADAP1</text></g>
<g id="d-tmlo3"><circle class="p" cx="575" cy="489" r="11"/><text x="575" y="490.7">TMLO3</text></g>
<g id="d-golgb1"><circle class="y" cx="546" cy="514" r="9"/><text x="546" y="515.7">GOLGB1</text></g>
<g id="d-pkm2"><circle class="y" cx="575" cy="513" r="9"/><text x="575" y="514.7">PKM2</text></g>
<g id="d-dok3"><circle class="n" cx="402" cy="397" r="11"/><text x="402" y="398.7">DOK3</text></g>
<g id="d-ptpn6"><circle class="p" cx="423" cy="398" r="12"/><text x="423" y="399.7">PTPN6</text></g>
<g id="d-slc29a3"><circle class="y" cx="443" cy="398" r="9"/><text x="443" y="399.7">SLC29A3</text></g>
<g id="d-plaur"><circle class="tg" cx="380" cy="406" r="9.5"/><text x="380" y="407.7">PLAUR</text></g>
<g id="d-man2a1"><circle class="y" cx="332" cy="411" r="9"/><text x="332" y="412.7">MAN2A1</text></g>
<g id="d-dhrs7"><circle class="n" cx="402" cy="419" r="11"/><text x="402" y="420.7">DHRS7</text></g>
<g id="d-nckap"><circle class="n" cx="427" cy="422" r="11"/><text x="427" y="423.7">NCKAP</text></g>
<g id="d-mcoln1"><circle class="yg" cx="455" cy="422" r="9.5"/><text x="455" y="423.7">MCOLN1</text></g>
<g id="d-apobec3c"><circle class="yg" cx="479" cy="425" r="9"/><text x="479" y="426.7">APOBEC3C</text></g>
<g id="d-vps18"><circle class="y" cx="502" cy="417" r="9"/><text x="502" y="418.7">VPS18</text></g>
<g id="d-dnase2b"><circle class="t" cx="405" cy="441" r="9.5"/><text x="405" y="442.7">DNASE2B</text></g>
<g id="d-pgbd5"><circle class="y" cx="381" cy="449" r="9"/><text x="381" y="450.7">PGBD5</text></g>
<g id="d-neu1"><circle class="y" cx="430" cy="445" r="9"/><text x="430" y="446.7">NEU1</text></g>
<g id="d-c15orf56"><circle class="y" cx="454" cy="459" r="9"/><text x="454" y="460.7">C15orf56</text></g>
<g id="d-esrra"><circle class="yg" cx="429" cy="473" r="9"/><text x="429" y="474.7">ESRRA</text></g>
<g id="d-tmc6"><circle class="b" cx="490" cy="448" r="9"/><text x="490" y="449.7">TMC6</text></g>
<g id="d-zfp41"><circle class="b" cx="489" cy="480" r="9"/><text x="489" y="481.7">ZFP41</text></g>
</g>
</svg>
